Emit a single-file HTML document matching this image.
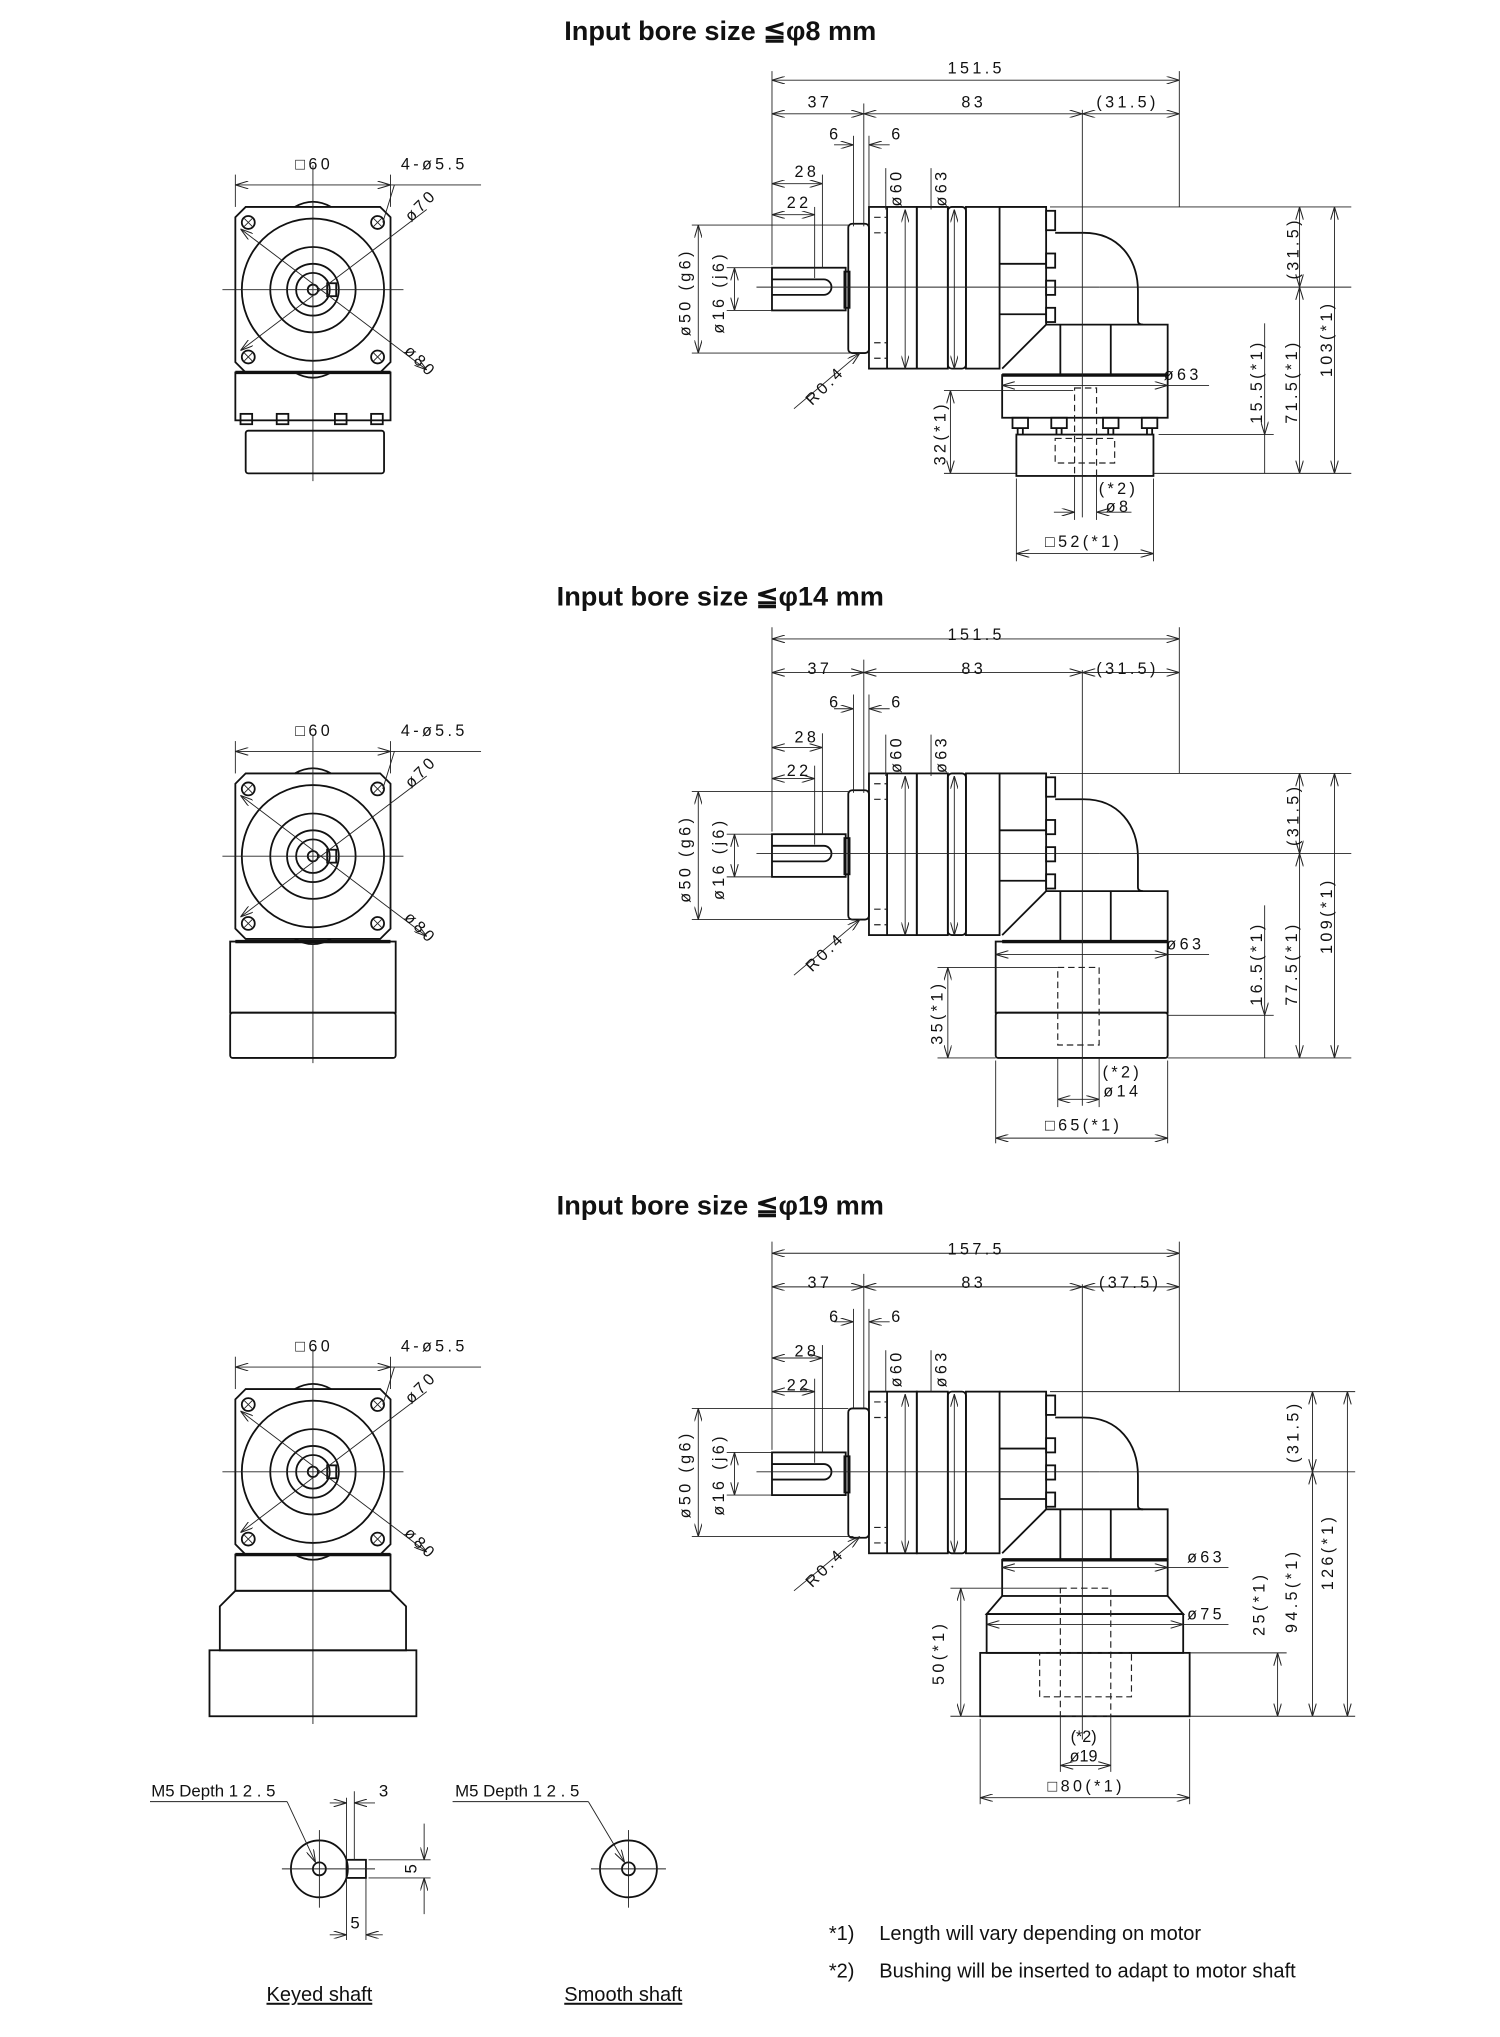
<!DOCTYPE html>
<html><head><meta charset="utf-8"><style>
html,body{margin:0;padding:0;background:#fff}
svg{display:block}
.o{fill:none;stroke:#111;stroke-width:1.4}
.t{fill:none;stroke:#111;stroke-width:2.6}
.d{fill:none;stroke:#222;stroke-width:.7}
.h{fill:none;stroke:#222;stroke-width:.9;stroke-dasharray:5 3}
.c{fill:none;stroke:#222;stroke-width:.7}
text{font-family:"Liberation Sans",sans-serif;fill:#111}
.n{font-size:12.5px;letter-spacing:2.6px}
.ti{font-size:21px;font-weight:bold}
.nt{font-family:"Liberation Sans Narrow","Liberation Sans",sans-serif;font-size:15.5px}
</style></head><body>
<svg width="1500" height="2037" viewBox="0 0 1160 1575" preserveAspectRatio="none" xmlns="http://www.w3.org/2000/svg">
<defs>
<marker id="a" viewBox="0 0 10 6" refX="10" refY="3" markerWidth="10" markerHeight="6" markerUnits="userSpaceOnUse" orient="auto-start-reverse"><path d="M0,0 L10,3 L0,6" fill="none" stroke="#222" stroke-width=".8"/></marker>
<g id="gear">
<rect class="o" x="597" y="47" width="57" height="33"/>
<path class="o" d="M597,56 H637 A6,6 0 0 1 637,68 H597"/>
<rect class="o" x="653" y="50" width="4" height="28"/>
<rect class="o" x="656" y="13" width="16" height="100" rx="3"/>
<rect class="o" x="672" y="0" width="37" height="125"/>
<line class="o" x1="686" y1="0" x2="686" y2="125"/>
<line class="h" x1="676" y1="8" x2="686" y2="8"/><line class="h" x1="676" y1="20" x2="686" y2="20"/>
<line class="h" x1="676" y1="105" x2="686" y2="105"/><line class="h" x1="676" y1="117" x2="686" y2="117"/>
<rect class="o" x="709" y="0" width="24" height="125"/>
<rect class="o" x="733" y="0" width="14" height="125" rx="3"/>
<rect class="o" x="747" y="0" width="26" height="125"/>
<path class="o" d="M773,0 H809 V91 L775,125"/>
<line class="o" x1="773" y1="44" x2="809" y2="44"/><line class="o" x1="773" y1="83" x2="809" y2="83"/>
<rect class="o" x="809" y="3" width="7" height="15"/><rect class="o" x="809" y="36" width="7" height="11"/>
<rect class="o" x="809" y="57" width="7" height="11"/><rect class="o" x="809" y="78" width="7" height="11"/>
<path class="o" d="M816,20 H838 C865,20 880,40 880,65 V88 Q880,91 884,91"/>
<path class="o" d="M809,91 H903 V130"/>
<line class="t" x1="775" y1="130" x2="903" y2="130"/>
<line class="o" x1="820" y1="91" x2="820" y2="130"/><line class="o" x1="859" y1="91" x2="859" y2="130"/>
</g>
<g id="front">
<path class="o" d="M190,-64 H294 L302,-56 V56 L294,64 H190 L182,56 V-56 Z"/>
<path class="o" d="M228,-64 Q242,-72 256,-64 M228,64 Q242,72 256,64"/>
<circle class="o" cx="242" cy="0" r="55"/><circle class="o" cx="242" cy="0" r="33"/>
<circle class="o" cx="242" cy="0" r="20"/><circle class="o" cx="242" cy="0" r="13"/><circle class="o" cx="242" cy="0" r="4"/>
<rect class="o" x="253" y="-5" width="7" height="10"/>
<g class="o"><circle cx="192" cy="-52" r="5"/><circle cx="292" cy="-52" r="5"/><circle cx="192" cy="52" r="5"/><circle cx="292" cy="52" r="5"/></g>
<path class="d" d="M189,-55 L195,-49 M195,-55 L189,-49 M289,-55 L295,-49 M295,-55 L289,-49 M189,49 L195,55 M195,49 L189,55 M289,49 L295,55 M295,49 L289,55"/>
<line class="d" x1="186" y1="-47" x2="330" y2="62" marker-start="url(#a)" marker-end="url(#a)"/>
<line class="d" x1="186" y1="47" x2="330" y2="-62" marker-start="url(#a)"/>
<line class="c" x1="172" y1="0" x2="312" y2="0"/>
</g>
</defs>

<!-- ===== SECTION 1 ===== -->
<text class="ti" x="557" y="31" text-anchor="middle">Input bore size  ≦φ8 mm</text>
<use href="#front" transform="translate(0,224)"/>
<line class="c" x1="242" y1="128" x2="242" y2="372"/>
<rect class="o" x="182" y="288" width="120" height="37"/><line class="t" x1="182" y1="288" x2="302" y2="288"/>
<g class="o"><rect x="186" y="320" width="9" height="8"/><rect x="214" y="320" width="9" height="8"/><rect x="259" y="320" width="9" height="8"/><rect x="287" y="320" width="9" height="8"/></g>
<rect class="o" x="190" y="333" width="107" height="33" rx="2"/>
<line class="d" x1="182" y1="143" x2="302" y2="143" marker-start="url(#a)" marker-end="url(#a)"/>
<line class="d" x1="182" y1="135" x2="182" y2="160"/><line class="d" x1="302" y1="135" x2="302" y2="160"/>
<line class="d" x1="302" y1="143" x2="372" y2="143"/><line class="d" x1="305" y1="143" x2="296" y2="172"/>
<text class="n" x="243" y="131" text-anchor="middle">□60</text><text class="n" x="310" y="131">4-ø5.5</text>
<text class="n" transform="translate(318,172) rotate(-45)">ø70</text>
<text class="n" transform="translate(312,272) rotate(45)">ø80</text>

<use href="#gear" transform="translate(0,160)"/>
<rect class="o" x="775" y="290" width="128" height="33"/>
<g class="o"><rect x="783" y="323" width="12" height="8"/><rect x="813" y="323" width="12" height="8"/><rect x="853" y="323" width="12" height="8"/><rect x="883" y="323" width="12" height="8"/></g>
<path class="o" d="M787,331V336M791,331V336M817,331V336M821,331V336M857,331V336M861,331V336M887,331V336M891,331V336"/>
<rect class="o" x="786" y="336" width="106" height="32"/>
<rect class="h" x="831" y="300" width="17" height="68"/><rect class="h" x="816" y="339" width="46" height="19"/>
<line class="c" x1="837" y1="85" x2="837" y2="400"/><line class="c" x1="585" y1="222" x2="850" y2="222"/>
<!-- dims -->
<g class="d">
<line x1="597" y1="55" x2="597" y2="205"/><line x1="912" y1="55" x2="912" y2="160"/><line x1="668" y1="80" x2="668" y2="175"/>
<line x1="660" y1="105" x2="660" y2="175"/><line x1="672" y1="105" x2="672" y2="160"/><line x1="636" y1="135" x2="636" y2="207"/><line x1="630" y1="160" x2="630" y2="215"/>
</g>
<line class="d" x1="597" y1="62" x2="912" y2="62" marker-start="url(#a)" marker-end="url(#a)"/>
<line class="d" x1="597" y1="88" x2="668" y2="88" marker-start="url(#a)" marker-end="url(#a)"/>
<line class="d" x1="668" y1="88" x2="837" y2="88" marker-start="url(#a)" marker-end="url(#a)"/>
<line class="d" x1="837" y1="88" x2="912" y2="88" marker-start="url(#a)" marker-end="url(#a)"/>
<line class="d" x1="645" y1="112" x2="660" y2="112" marker-end="url(#a)"/><line class="d" x1="688" y1="112" x2="672" y2="112" marker-end="url(#a)"/>
<line class="d" x1="597" y1="142" x2="636" y2="142" marker-start="url(#a)" marker-end="url(#a)"/>
<line class="d" x1="597" y1="166" x2="630" y2="166" marker-start="url(#a)" marker-end="url(#a)"/>
<text class="n" x="755" y="57" text-anchor="middle">151.5</text><text class="n" x="634" y="83" text-anchor="middle">37</text>
<text class="n" x="753" y="83" text-anchor="middle">83</text><text class="n" x="872" y="83" text-anchor="middle">(31.5)</text>
<text class="n" x="646" y="108" text-anchor="middle">6</text><text class="n" x="694" y="108" text-anchor="middle">6</text>
<text class="n" x="624" y="137" text-anchor="middle">28</text><text class="n" x="618" y="161" text-anchor="middle">22</text>
<line class="d" x1="685" y1="130" x2="685" y2="162"/><line class="d" x1="720" y1="130" x2="720" y2="162"/>
<line class="d" x1="700" y1="162" x2="700" y2="285" marker-start="url(#a)" marker-end="url(#a)"/>
<line class="d" x1="738" y1="162" x2="738" y2="285" marker-start="url(#a)" marker-end="url(#a)"/>
<text class="n" transform="translate(697,145) rotate(-90)" text-anchor="middle">ø60</text>
<text class="n" transform="translate(732,145) rotate(-90)" text-anchor="middle">ø63</text>
<line class="d" x1="535" y1="174" x2="656" y2="174"/><line class="d" x1="535" y1="273" x2="660" y2="273"/>
<line class="d" x1="562" y1="207" x2="597" y2="207"/><line class="d" x1="562" y1="240" x2="597" y2="240"/>
<line class="d" x1="540" y1="174" x2="540" y2="273" marker-start="url(#a)" marker-end="url(#a)"/>
<line class="d" x1="568" y1="207" x2="568" y2="240" marker-start="url(#a)" marker-end="url(#a)"/>
<text class="n" transform="translate(534,226) rotate(-90)" text-anchor="middle">ø50 (g6)</text>
<text class="n" transform="translate(560,226) rotate(-90)" text-anchor="middle">ø16 (j6)</text>
<line class="d" x1="614" y1="316" x2="665" y2="273" marker-end="url(#a)"/>
<text class="n" transform="translate(628,314) rotate(-45)">R0.4</text>
<g class="d"><line x1="812" y1="160" x2="1045" y2="160"/><line x1="850" y1="222" x2="1045" y2="222"/><line x1="892" y1="366" x2="1045" y2="366"/><line x1="896" y1="336" x2="985" y2="336"/>
<line x1="730" y1="302" x2="830" y2="302"/><line x1="730" y1="366" x2="786" y2="366"/></g>
<line class="d" x1="1005" y1="160" x2="1005" y2="222" marker-start="url(#a)" marker-end="url(#a)"/>
<line class="d" x1="978" y1="250" x2="978" y2="336" marker-end="url(#a)"/><line class="d" x1="978" y1="366" x2="978" y2="336"/>
<line class="d" x1="1005" y1="222" x2="1005" y2="366" marker-start="url(#a)" marker-end="url(#a)"/>
<line class="d" x1="1032" y1="160" x2="1032" y2="366" marker-start="url(#a)" marker-end="url(#a)"/>
<line class="d" x1="735" y1="302" x2="735" y2="366" marker-start="url(#a)" marker-end="url(#a)"/>
<text class="n" transform="translate(1004,192) rotate(-90)" text-anchor="middle">(31.5)</text>
<text class="n" transform="translate(976,295) rotate(-90)" text-anchor="middle">15.5(*1)</text>
<text class="n" transform="translate(1003,295) rotate(-90)" text-anchor="middle">71.5(*1)</text>
<text class="n" transform="translate(1030,262) rotate(-90)" text-anchor="middle">103(*1)</text>
<text class="n" transform="translate(731,335) rotate(-90)" text-anchor="middle">32(*1)</text>
<line class="d" x1="775" y1="298" x2="903" y2="298" marker-start="url(#a)" marker-end="url(#a)"/><line class="d" x1="903" y1="298" x2="935" y2="298"/>
<text class="n" x="900" y="294">ø63</text>
<line class="d" x1="831" y1="368" x2="831" y2="402"/><line class="d" x1="848" y1="368" x2="848" y2="402"/>
<line class="d" x1="815" y1="396" x2="831" y2="396" marker-end="url(#a)"/><line class="d" x1="875" y1="396" x2="848" y2="396" marker-end="url(#a)"/>
<text class="n" x="865" y="382" text-anchor="middle">(*2)</text><text class="n" x="865" y="396" text-anchor="middle">ø8</text>
<line class="d" x1="786" y1="370" x2="786" y2="434"/><line class="d" x1="892" y1="370" x2="892" y2="434"/>
<line class="d" x1="786" y1="428" x2="892" y2="428" marker-start="url(#a)" marker-end="url(#a)"/>
<text class="n" x="838" y="423" text-anchor="middle">□52(*1)</text>

<!-- ===== SECTION 2 ===== -->
<text class="ti" x="557" y="468" text-anchor="middle">Input bore size  ≦φ14 mm</text>
<use href="#front" transform="translate(0,662)"/>
<line class="c" x1="242" y1="568" x2="242" y2="822"/>
<rect class="o" x="178" y="728" width="128" height="55"/><line class="t" x1="182" y1="728" x2="302" y2="728"/>
<rect class="o" x="178" y="783" width="128" height="35" rx="2"/>
<line class="d" x1="182" y1="581" x2="302" y2="581" marker-start="url(#a)" marker-end="url(#a)"/>
<line class="d" x1="182" y1="573" x2="182" y2="598"/><line class="d" x1="302" y1="573" x2="302" y2="598"/>
<line class="d" x1="302" y1="581" x2="372" y2="581"/><line class="d" x1="305" y1="581" x2="296" y2="610"/>
<text class="n" x="243" y="569" text-anchor="middle">□60</text><text class="n" x="310" y="569">4-ø5.5</text>
<text class="n" transform="translate(318,610) rotate(-45)">ø70</text>
<text class="n" transform="translate(312,710) rotate(45)">ø80</text>

<use href="#gear" transform="translate(0,598)"/>
<rect class="o" x="770" y="728" width="133" height="55"/>
<rect class="o" x="770" y="783" width="133" height="35" rx="2"/>
<rect class="h" x="818" y="748" width="32" height="60"/>
<line class="c" x1="837" y1="518" x2="837" y2="855"/><line class="c" x1="585" y1="660" x2="850" y2="660"/>
<g class="d">
<line x1="597" y1="485" x2="597" y2="643"/><line x1="912" y1="485" x2="912" y2="598"/><line x1="668" y1="510" x2="668" y2="613"/>
<line x1="660" y1="537" x2="660" y2="613"/><line x1="672" y1="537" x2="672" y2="598"/><line x1="636" y1="567" x2="636" y2="645"/><line x1="630" y1="592" x2="630" y2="653"/>
</g>
<line class="d" x1="597" y1="494" x2="912" y2="494" marker-start="url(#a)" marker-end="url(#a)"/>
<line class="d" x1="597" y1="520" x2="668" y2="520" marker-start="url(#a)" marker-end="url(#a)"/>
<line class="d" x1="668" y1="520" x2="837" y2="520" marker-start="url(#a)" marker-end="url(#a)"/>
<line class="d" x1="837" y1="520" x2="912" y2="520" marker-start="url(#a)" marker-end="url(#a)"/>
<line class="d" x1="645" y1="548" x2="660" y2="548" marker-end="url(#a)"/><line class="d" x1="688" y1="548" x2="672" y2="548" marker-end="url(#a)"/>
<line class="d" x1="597" y1="578" x2="636" y2="578" marker-start="url(#a)" marker-end="url(#a)"/>
<line class="d" x1="597" y1="602" x2="630" y2="602" marker-start="url(#a)" marker-end="url(#a)"/>
<text class="n" x="755" y="495" text-anchor="middle">151.5</text><text class="n" x="634" y="521" text-anchor="middle">37</text>
<text class="n" x="753" y="521" text-anchor="middle">83</text><text class="n" x="872" y="521" text-anchor="middle">(31.5)</text>
<text class="n" x="646" y="547" text-anchor="middle">6</text><text class="n" x="694" y="547" text-anchor="middle">6</text>
<text class="n" x="624" y="574" text-anchor="middle">28</text><text class="n" x="618" y="600" text-anchor="middle">22</text>
<line class="d" x1="685" y1="568" x2="685" y2="600"/><line class="d" x1="720" y1="568" x2="720" y2="600"/>
<line class="d" x1="700" y1="600" x2="700" y2="723" marker-start="url(#a)" marker-end="url(#a)"/>
<line class="d" x1="738" y1="600" x2="738" y2="723" marker-start="url(#a)" marker-end="url(#a)"/>
<text class="n" transform="translate(697,583) rotate(-90)" text-anchor="middle">ø60</text>
<text class="n" transform="translate(732,583) rotate(-90)" text-anchor="middle">ø63</text>
<line class="d" x1="535" y1="612" x2="656" y2="612"/><line class="d" x1="535" y1="711" x2="660" y2="711"/>
<line class="d" x1="562" y1="645" x2="597" y2="645"/><line class="d" x1="562" y1="678" x2="597" y2="678"/>
<line class="d" x1="540" y1="612" x2="540" y2="711" marker-start="url(#a)" marker-end="url(#a)"/>
<line class="d" x1="568" y1="645" x2="568" y2="678" marker-start="url(#a)" marker-end="url(#a)"/>
<text class="n" transform="translate(534,664) rotate(-90)" text-anchor="middle">ø50 (g6)</text>
<text class="n" transform="translate(560,664) rotate(-90)" text-anchor="middle">ø16 (j6)</text>
<line class="d" x1="614" y1="754" x2="665" y2="711" marker-end="url(#a)"/>
<text class="n" transform="translate(628,752) rotate(-45)">R0.4</text>
<g class="d"><line x1="812" y1="598" x2="1045" y2="598"/><line x1="850" y1="660" x2="1045" y2="660"/><line x1="903" y1="818" x2="1045" y2="818"/><line x1="903" y1="785" x2="985" y2="785"/>
<line x1="725" y1="748" x2="818" y2="748"/><line x1="725" y1="818" x2="770" y2="818"/></g>
<line class="d" x1="1005" y1="598" x2="1005" y2="660" marker-start="url(#a)" marker-end="url(#a)"/>
<line class="d" x1="978" y1="700" x2="978" y2="785" marker-end="url(#a)"/><line class="d" x1="978" y1="818" x2="978" y2="785"/>
<line class="d" x1="1005" y1="660" x2="1005" y2="818" marker-start="url(#a)" marker-end="url(#a)"/>
<line class="d" x1="1032" y1="598" x2="1032" y2="818" marker-start="url(#a)" marker-end="url(#a)"/>
<line class="d" x1="733" y1="748" x2="733" y2="818" marker-start="url(#a)" marker-end="url(#a)"/>
<text class="n" transform="translate(1004,630) rotate(-90)" text-anchor="middle">(31.5)</text>
<text class="n" transform="translate(976,745) rotate(-90)" text-anchor="middle">16.5(*1)</text>
<text class="n" transform="translate(1003,745) rotate(-90)" text-anchor="middle">77.5(*1)</text>
<text class="n" transform="translate(1030,708) rotate(-90)" text-anchor="middle">109(*1)</text>
<text class="n" transform="translate(729,783) rotate(-90)" text-anchor="middle">35(*1)</text>
<line class="d" x1="770" y1="738" x2="903" y2="738" marker-start="url(#a)" marker-end="url(#a)"/><line class="d" x1="903" y1="738" x2="935" y2="738"/>
<text class="n" x="902" y="734">ø63</text>
<line class="d" x1="818" y1="818" x2="818" y2="856"/><line class="d" x1="850" y1="818" x2="850" y2="856"/>
<line class="d" x1="818" y1="850" x2="850" y2="850" marker-start="url(#a)" marker-end="url(#a)"/>
<text class="n" x="868" y="833" text-anchor="middle">(*2)</text><text class="n" x="868" y="848" text-anchor="middle">ø14</text>
<line class="d" x1="770" y1="820" x2="770" y2="884"/><line class="d" x1="903" y1="820" x2="903" y2="884"/>
<line class="d" x1="770" y1="880" x2="903" y2="880" marker-start="url(#a)" marker-end="url(#a)"/>
<text class="n" x="838" y="874" text-anchor="middle">□65(*1)</text>

<!-- ===== SECTION 3 ===== -->
<text class="ti" x="557" y="939" text-anchor="middle">Input bore size  ≦φ19 mm</text>
<use href="#front" transform="translate(0,1138)"/>
<line class="c" x1="242" y1="1043" x2="242" y2="1333"/>
<rect class="o" x="182" y="1202" width="120" height="28"/><line class="t" x1="182" y1="1202" x2="302" y2="1202"/>
<path class="o" d="M182,1230 L170,1242 V1276 H314 V1242 L302,1230 Z"/>
<rect class="o" x="162" y="1276" width="160" height="51"/>
<line class="d" x1="182" y1="1057" x2="302" y2="1057" marker-start="url(#a)" marker-end="url(#a)"/>
<line class="d" x1="182" y1="1049" x2="182" y2="1074"/><line class="d" x1="302" y1="1049" x2="302" y2="1074"/>
<line class="d" x1="302" y1="1057" x2="372" y2="1057"/><line class="d" x1="305" y1="1057" x2="296" y2="1086"/>
<text class="n" x="243" y="1045" text-anchor="middle">□60</text><text class="n" x="310" y="1045">4-ø5.5</text>
<text class="n" transform="translate(318,1086) rotate(-45)">ø70</text>
<text class="n" transform="translate(312,1186) rotate(45)">ø80</text>

<use href="#gear" transform="translate(0,1076)"/>
<rect class="o" x="775" y="1206" width="128" height="28"/>
<path class="o" d="M775,1234 L763,1248 H915 L903,1234"/>
<rect class="o" x="763" y="1248" width="152" height="30"/>
<rect class="o" x="758" y="1278" width="162" height="49"/>
<rect class="h" x="820" y="1228" width="39" height="99"/><rect class="h" x="804" y="1278" width="71" height="34"/>
<line class="c" x1="837" y1="993" x2="837" y2="1345"/><line class="c" x1="585" y1="1138" x2="850" y2="1138"/>
<g class="d">
<line x1="597" y1="960" x2="597" y2="1121"/><line x1="912" y1="960" x2="912" y2="1076"/><line x1="668" y1="985" x2="668" y2="1089"/>
<line x1="660" y1="1012" x2="660" y2="1089"/><line x1="672" y1="1012" x2="672" y2="1076"/><line x1="636" y1="1040" x2="636" y2="1123"/><line x1="630" y1="1066" x2="630" y2="1131"/>
</g>
<line class="d" x1="597" y1="969" x2="912" y2="969" marker-start="url(#a)" marker-end="url(#a)"/>
<line class="d" x1="597" y1="995" x2="668" y2="995" marker-start="url(#a)" marker-end="url(#a)"/>
<line class="d" x1="668" y1="995" x2="837" y2="995" marker-start="url(#a)" marker-end="url(#a)"/>
<line class="d" x1="837" y1="995" x2="912" y2="995" marker-start="url(#a)" marker-end="url(#a)"/>
<line class="d" x1="645" y1="1022" x2="660" y2="1022" marker-end="url(#a)"/><line class="d" x1="688" y1="1022" x2="672" y2="1022" marker-end="url(#a)"/>
<line class="d" x1="597" y1="1050" x2="636" y2="1050" marker-start="url(#a)" marker-end="url(#a)"/>
<line class="d" x1="597" y1="1076" x2="630" y2="1076" marker-start="url(#a)" marker-end="url(#a)"/>
<text class="n" x="755" y="970" text-anchor="middle">157.5</text><text class="n" x="634" y="996" text-anchor="middle">37</text>
<text class="n" x="753" y="996" text-anchor="middle">83</text><text class="n" x="874" y="996" text-anchor="middle">(37.5)</text>
<text class="n" x="646" y="1022" text-anchor="middle">6</text><text class="n" x="694" y="1022" text-anchor="middle">6</text>
<text class="n" x="624" y="1049" text-anchor="middle">28</text><text class="n" x="618" y="1075" text-anchor="middle">22</text>
<line class="d" x1="685" y1="1044" x2="685" y2="1076"/><line class="d" x1="720" y1="1044" x2="720" y2="1076"/>
<line class="d" x1="700" y1="1078" x2="700" y2="1201" marker-start="url(#a)" marker-end="url(#a)"/>
<line class="d" x1="738" y1="1078" x2="738" y2="1201" marker-start="url(#a)" marker-end="url(#a)"/>
<text class="n" transform="translate(697,1058) rotate(-90)" text-anchor="middle">ø60</text>
<text class="n" transform="translate(732,1058) rotate(-90)" text-anchor="middle">ø63</text>
<line class="d" x1="535" y1="1089" x2="656" y2="1089"/><line class="d" x1="535" y1="1188" x2="660" y2="1188"/>
<line class="d" x1="562" y1="1123" x2="597" y2="1123"/><line class="d" x1="562" y1="1156" x2="597" y2="1156"/>
<line class="d" x1="540" y1="1089" x2="540" y2="1188" marker-start="url(#a)" marker-end="url(#a)"/>
<line class="d" x1="568" y1="1123" x2="568" y2="1156" marker-start="url(#a)" marker-end="url(#a)"/>
<text class="n" transform="translate(534,1140) rotate(-90)" text-anchor="middle">ø50 (g6)</text>
<text class="n" transform="translate(560,1140) rotate(-90)" text-anchor="middle">ø16 (j6)</text>
<line class="d" x1="614" y1="1230" x2="665" y2="1188" marker-end="url(#a)"/>
<text class="n" transform="translate(628,1228) rotate(-45)">R0.4</text>
<g class="d"><line x1="812" y1="1076" x2="1048" y2="1076"/><line x1="850" y1="1138" x2="1048" y2="1138"/><line x1="920" y1="1327" x2="1048" y2="1327"/><line x1="920" y1="1278" x2="995" y2="1278"/>
<line x1="735" y1="1228" x2="820" y2="1228"/><line x1="735" y1="1327" x2="758" y2="1327"/></g>
<line class="d" x1="1015" y1="1076" x2="1015" y2="1138" marker-start="url(#a)" marker-end="url(#a)"/>
<line class="d" x1="988" y1="1278" x2="988" y2="1327" marker-start="url(#a)" marker-end="url(#a)"/>
<line class="d" x1="1015" y1="1138" x2="1015" y2="1327" marker-start="url(#a)" marker-end="url(#a)"/>
<line class="d" x1="1042" y1="1076" x2="1042" y2="1327" marker-start="url(#a)" marker-end="url(#a)"/>
<line class="d" x1="743" y1="1228" x2="743" y2="1327" marker-start="url(#a)" marker-end="url(#a)"/>
<text class="n" transform="translate(1004,1107) rotate(-90)" text-anchor="middle">(31.5)</text>
<text class="n" transform="translate(978,1240) rotate(-90)" text-anchor="middle">25(*1)</text>
<text class="n" transform="translate(1003,1230) rotate(-90)" text-anchor="middle">94.5(*1)</text>
<text class="n" transform="translate(1031,1200) rotate(-90)" text-anchor="middle">126(*1)</text>
<text class="n" transform="translate(730,1278) rotate(-90)" text-anchor="middle">50(*1)</text>
<line class="d" x1="775" y1="1212" x2="903" y2="1212" marker-start="url(#a)" marker-end="url(#a)"/><line class="d" x1="903" y1="1212" x2="950" y2="1212"/>
<text class="n" x="918" y="1208">ø63</text>
<line class="d" x1="763" y1="1256" x2="915" y2="1256" marker-start="url(#a)" marker-end="url(#a)"/><line class="d" x1="915" y1="1256" x2="950" y2="1256"/>
<text class="n" x="918" y="1252">ø75</text>
<line class="d" x1="820" y1="1327" x2="820" y2="1370"/><line class="d" x1="859" y1="1327" x2="859" y2="1370"/>
<line class="d" x1="820" y1="1365" x2="859" y2="1365" marker-start="url(#a)" marker-end="url(#a)"/>
<text class="n" x="838" y="1347" text-anchor="middle" style="letter-spacing:0">(*2)</text><text class="n" x="838" y="1362" text-anchor="middle" style="letter-spacing:0">ø19</text>
<line class="d" x1="758" y1="1329" x2="758" y2="1395"/><line class="d" x1="920" y1="1329" x2="920" y2="1395"/>
<line class="d" x1="758" y1="1390" x2="920" y2="1390" marker-start="url(#a)" marker-end="url(#a)"/>
<text class="n" x="840" y="1385" text-anchor="middle">□80(*1)</text>

<!-- ===== shaft details ===== -->
<circle class="o" cx="247" cy="1445" r="22"/><circle class="o" cx="247" cy="1445" r="5"/>
<rect class="o" x="268" y="1438" width="15" height="14"/>
<line class="c" x1="218" y1="1445" x2="290" y2="1445"/><line class="c" x1="247" y1="1415" x2="247" y2="1475"/>
<line class="d" x1="116" y1="1393" x2="222" y2="1393"/><line class="d" x1="222" y1="1393" x2="244" y2="1440" marker-end="url(#a)"/>
<text class="nt" x="117" y="1389" style="font-size:13px">M5 Depth 1 2 . 5</text>
<line class="d" x1="268" y1="1390" x2="268" y2="1438"/><line class="d" x1="274" y1="1385" x2="274" y2="1438"/>
<line class="d" x1="255" y1="1394" x2="268" y2="1394" marker-end="url(#a)"/><line class="d" x1="290" y1="1394" x2="274" y2="1394" marker-end="url(#a)"/>
<text class="nt" x="293" y="1389" style="font-size:13px">3</text>
<line class="d" x1="285" y1="1438" x2="333" y2="1438"/><line class="d" x1="285" y1="1452" x2="333" y2="1452"/>
<line class="d" x1="328" y1="1410" x2="328" y2="1438" marker-end="url(#a)"/><line class="d" x1="328" y1="1480" x2="328" y2="1452" marker-end="url(#a)"/>
<text class="nt" transform="translate(322,1445) rotate(-90)" text-anchor="middle" style="font-size:13px">5</text>
<line class="d" x1="268" y1="1452" x2="268" y2="1500"/><line class="d" x1="283" y1="1452" x2="283" y2="1500"/>
<line class="d" x1="255" y1="1496" x2="268" y2="1496" marker-end="url(#a)"/><line class="d" x1="296" y1="1496" x2="283" y2="1496" marker-end="url(#a)"/>
<text class="nt" x="271" y="1491" style="font-size:13px">5</text>
<circle class="o" cx="486" cy="1445" r="22"/><circle class="o" cx="486" cy="1445" r="5"/>
<line class="c" x1="457" y1="1445" x2="515" y2="1445"/><line class="c" x1="486" y1="1415" x2="486" y2="1475"/>
<line class="d" x1="350" y1="1393" x2="455" y2="1393"/><line class="d" x1="455" y1="1393" x2="483" y2="1440" marker-end="url(#a)"/>
<text class="nt" x="352" y="1389" style="font-size:13px">M5 Depth 1 2 . 5</text>
<text class="nt" x="247" y="1547" text-anchor="middle" text-decoration="underline">Keyed shaft</text>
<text class="nt" x="482" y="1547" text-anchor="middle" text-decoration="underline">Smooth shaft</text>
<text class="nt" x="641" y="1500">*1)</text><text class="nt" x="680" y="1500">Length will vary depending on motor</text>
<text class="nt" x="641" y="1529">*2)</text><text class="nt" x="680" y="1529">Bushing will be inserted to adapt to motor shaft</text>
</svg>
</body></html>
